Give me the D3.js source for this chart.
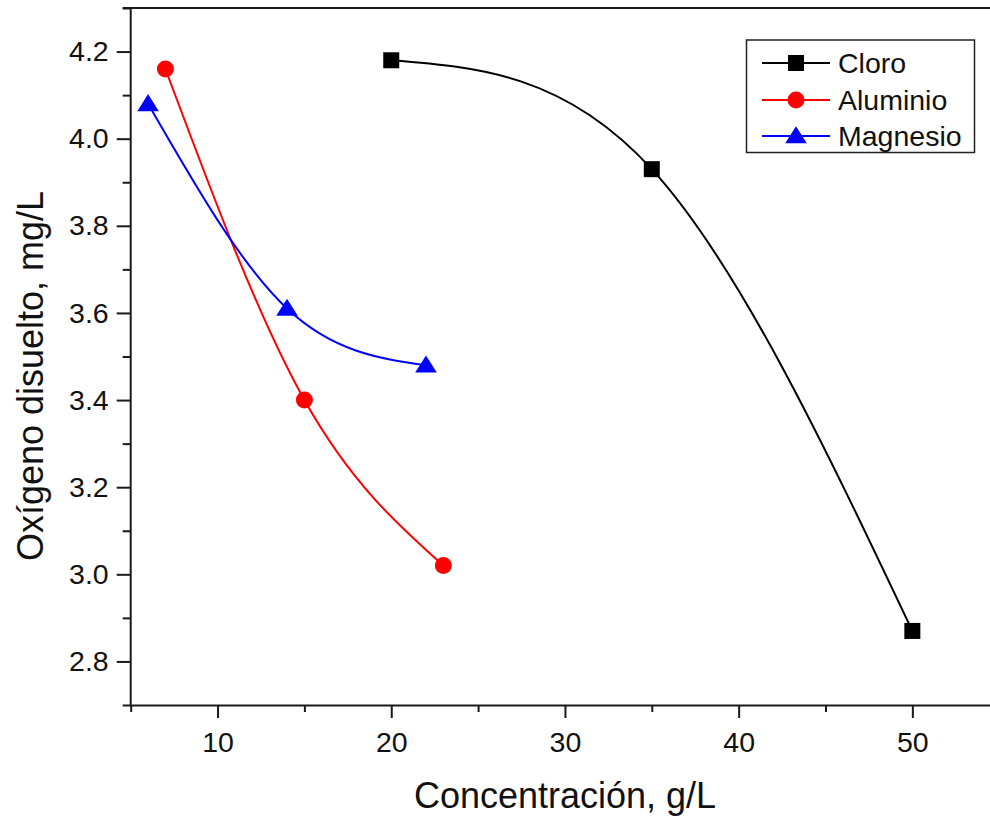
<!DOCTYPE html>
<html>
<head>
<meta charset="utf-8">
<script src="https://cdn.jsdelivr.net/npm/d3@7"></script>
<style>
  html, body { margin: 0; padding: 0; background: #fff; }
  svg { display: block; font-family: "Liberation Sans", Arial, sans-serif; }
</style>
</head>
<body>
<svg id="chart" width="990" height="818"></svg>
<script>
// ---- data ----
const seriesNames = ["Cloro", "Aluminio", "Magnesio"];
const cloroX = [20, 35, 50];
const cloroY = [4.18, 3.93, 2.87];
const aluminioX = [7, 15, 23];
const aluminioY = [4.16, 3.40, 3.02];
const magnesioX = [6, 14, 22];
const magnesioY = [4.08, 3.61, 3.48];
const xMajorTicks = [10, 20, 30, 40, 50];
const xMinorTicks = [5, 15, 25, 35, 45, 55];
const yMajorTicks = [2.8, 3.0, 3.2, 3.4, 3.6, 3.8, 4.0, 4.2];
const yMinorTicks = [2.7, 2.9, 3.1, 3.3, 3.5, 3.7, 3.9, 4.1, 4.3];
const xTitle = "Concentración, g/L";
const yTitle = "Oxígeno disuelto, mg/L";

// ---- layout ----
const L = 130.7, T = 8, B = 705, R = 999.2;
const svg = d3.select("#chart");
const x = d3.scaleLinear().domain([5, 55]).range([L, R]);
const y = d3.scaleLinear().domain([2.7, 4.3]).range([B, T]);
const axisColor = "#1a1a1a";

const series = [
  { name: seriesNames[0], xs: cloroX, ys: cloroY, color: "#000000", shape: "square" },
  { name: seriesNames[1], xs: aluminioX, ys: aluminioY, color: "#ff0000", shape: "circle" },
  { name: seriesNames[2], xs: magnesioX, ys: magnesioY, color: "#0000ff", shape: "triangle" }
];

// top frame line
svg.append("line").attr("x1", L - 8).attr("x2", 990).attr("y1", T).attr("y2", T)
  .attr("stroke", axisColor).attr("stroke-width", 2);

// x axis
const gx = svg.append("g").attr("transform", `translate(0,${B})`);
gx.call(d3.axisBottom(x).tickValues(xMinorTicks).tickSize(7).tickSizeOuter(0).tickFormat(""));
gx.call(g => g.selectAll(".domain").remove());
const gx2 = svg.append("g").attr("transform", `translate(0,${B})`);
gx2.call(d3.axisBottom(x).tickValues(xMajorTicks).tickSize(13).tickSizeOuter(0).tickPadding(14));
gx2.selectAll("text").attr("font-size", 28.5).attr("fill", "#111").attr("font-family", "Liberation Sans, Arial, sans-serif");
[gx, gx2].forEach(g => g.selectAll("line").attr("stroke", axisColor).attr("stroke-width", 2));
gx2.select(".domain").attr("d", `M${L},0.5H990`).attr("stroke", axisColor).attr("stroke-width", 2);

// y axis
const gy = svg.append("g").attr("transform", `translate(${L},0)`);
gy.call(d3.axisLeft(y).tickValues(yMinorTicks).tickSize(8).tickSizeOuter(0).tickFormat(""));
gy.call(g => g.selectAll(".domain").remove());
const gy2 = svg.append("g").attr("transform", `translate(${L},0)`);
gy2.call(d3.axisLeft(y).tickValues(yMajorTicks).tickSize(14).tickSizeOuter(0).tickPadding(8).tickFormat(d3.format(".1f")));
gy2.selectAll("text").attr("font-size", 28.5).attr("fill", "#111").attr("font-family", "Liberation Sans, Arial, sans-serif");
[gy, gy2].forEach(g => g.selectAll("line").attr("stroke", axisColor).attr("stroke-width", 2));
gy2.select(".domain").attr("d", `M0,${T}V${B + 1}`).attr("stroke", axisColor).attr("stroke-width", 2);

// titles
svg.append("text").attr("x", 565).attr("y", 808).attr("text-anchor", "middle")
  .attr("font-size", 36).attr("fill", "#111").text(xTitle);
svg.append("text").attr("transform", `translate(43,376) rotate(-90)`).attr("text-anchor", "middle")
  .attr("font-size", 36).attr("fill", "#111").text(yTitle);

// lines
const line = d3.line().x(d => x(d[0])).y(d => y(d[1])).curve(d3.curveNatural);
function drawMarker(g, shape, cx, cy, color, s) {
  if (shape === "square") {
    g.append("rect").attr("x", cx - s / 2).attr("y", cy - s / 2).attr("width", s).attr("height", s).attr("fill", color);
  } else if (shape === "circle") {
    g.append("circle").attr("cx", cx).attr("cy", cy).attr("r", s / 2).attr("fill", color);
  } else {
    const h = s * 0.9;
    g.append("path").attr("d", `M${cx},${cy - h * 0.6}L${cx + s * 0.6},${cy + h * 0.45}L${cx - s * 0.6},${cy + h * 0.45}Z`).attr("fill", color);
  }
}
const sizeOf = shape => shape === "circle" ? 17 : shape === "triangle" ? 18 : 16;
const plot = svg.append("g");
series.forEach(s => {
  const pts = s.xs.map((v, i) => [v, s.ys[i]]);
  plot.append("path").attr("d", line(pts)).attr("fill", "none").attr("stroke", s.color).attr("stroke-width", 2);
});
series.forEach(s => {
  s.xs.forEach((v, i) => drawMarker(plot, s.shape, x(v), y(s.ys[i]), s.color, sizeOf(s.shape)));
});

// legend
const lg = svg.append("g");
lg.append("rect").attr("x", 746.5).attr("y", 40).attr("width", 228).attr("height", 112.5)
  .attr("fill", "#fff").attr("stroke", "#222").attr("stroke-width", 1.5);
const rowY = [63, 100, 136];
series.forEach((s, i) => {
  lg.append("line").attr("x1", 762).attr("x2", 830).attr("y1", rowY[i]).attr("y2", rowY[i])
    .attr("stroke", s.color).attr("stroke-width", 2);
  drawMarker(lg, s.shape, 796, rowY[i], s.color, sizeOf(s.shape));
  lg.append("text").attr("x", 838).attr("y", rowY[i] + 10).attr("font-size", 28.5).attr("fill", "#111").text(s.name);
});
</script>
</body>
</html>
